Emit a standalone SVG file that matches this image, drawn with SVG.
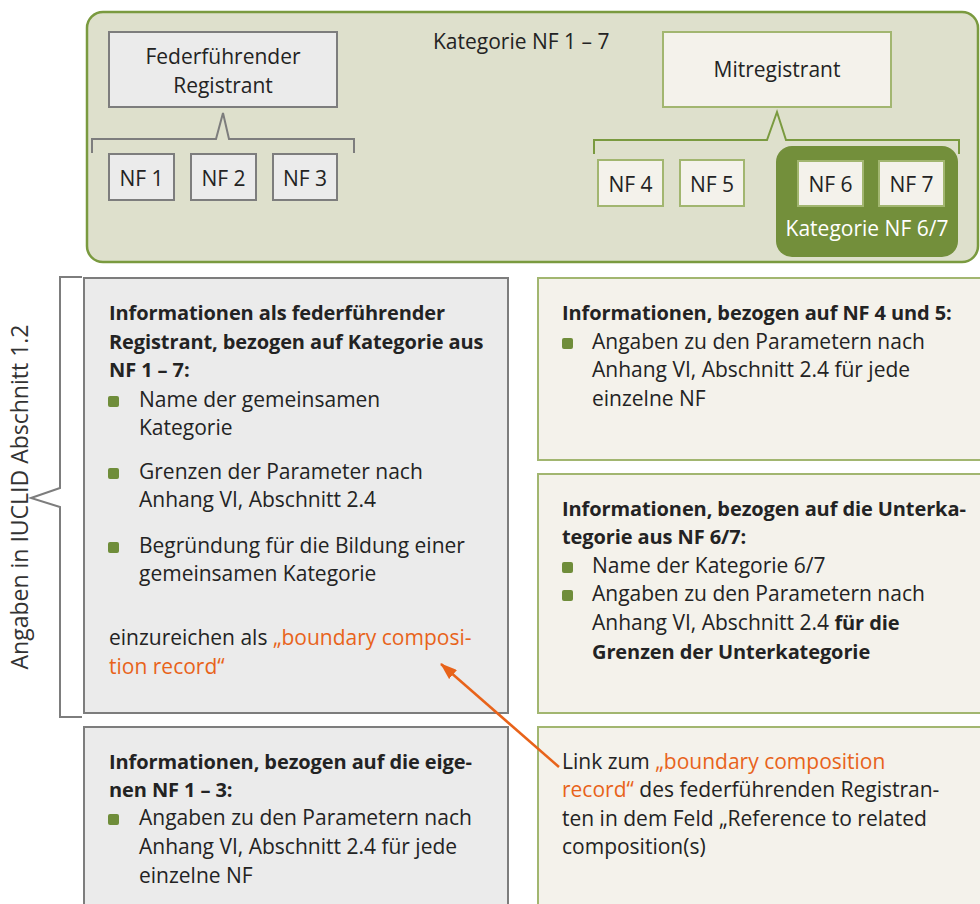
<svg xmlns="http://www.w3.org/2000/svg" width="980" height="904" viewBox="0 0 980 904">
<defs>
<style>
.t{font-family:"Open Sans","Liberation Sans",sans-serif;font-size:21px;fill:#232323}
.c{text-anchor:middle}
.h{font-weight:bold;font-size:20px;letter-spacing:-0.1px}
.o{fill:#e8631a}
.w{fill:#ffffff}
.gbox{fill:#ebebeb;stroke:#7d7d7d;stroke-width:2}
.lbox{fill:#f4f2eb;stroke:#a2b670;stroke-width:2}
.bul{fill:#6f8d3a}
.brg{fill:none;stroke:#7d7d7d;stroke-width:2}
.brgr{fill:none;stroke:#7a9a3f;stroke-width:2}
</style>
<marker id="ah" markerUnits="userSpaceOnUse" viewBox="0 0 17 12" refX="16" refY="6" markerWidth="17" markerHeight="12" orient="auto">
<path d="M0,0 L17,6 L0,12 z" fill="#e8631a"/>
</marker>
</defs>
<rect width="980" height="904" fill="#ffffff"/>

<g id="category-nf1-7">
<rect x="87" y="12" width="891" height="250" rx="16" fill="#dee0cc" stroke="#7a9a3f" stroke-width="2.5"/>
<text class="t" x="433" y="49">Kategorie NF 1 – 7</text>
</g>

<g id="lead-registrant">
<rect class="gbox" x="109" y="32" width="228" height="75"/>
<text class="t c" x="223" y="64">Federführender</text>
<text class="t c" x="223" y="93">Registrant</text>
</g>

<g id="nf1"><rect class="gbox" x="109" y="154" width="65" height="46"/><text class="t c" x="141.5" y="186">NF 1</text></g>
<g id="nf2"><rect class="gbox" x="191" y="154" width="65" height="46"/><text class="t c" x="223.5" y="186">NF 2</text></g>
<g id="nf3"><rect class="gbox" x="273" y="154" width="64" height="46"/><text class="t c" x="305" y="186">NF 3</text></g>

<g id="co-registrant">
<rect class="lbox" x="663" y="32" width="228" height="75"/>
<text class="t c" x="777" y="77">Mitregistrant</text>
</g>

<g id="nf4"><rect class="lbox" x="598" y="160" width="65" height="46"/><text class="t c" x="630.5" y="192">NF 4</text></g>
<g id="nf5"><rect class="lbox" x="680" y="160" width="64" height="46"/><text class="t c" x="712" y="192">NF 5</text></g>

<g id="category-nf6-7">
<rect x="776" y="146" width="182" height="111" rx="16" fill="#738f3b"/>
<text class="t c w" x="867" y="236">Kategorie NF 6/7</text>
</g>
<g id="nf6"><rect class="lbox" x="798" y="161" width="65" height="45"/><text class="t c" x="830.5" y="192">NF 6</text></g>
<g id="nf7"><rect class="lbox" x="879" y="161" width="65" height="45"/><text class="t c" x="911.5" y="192">NF 7</text></g>

<g id="side-label">
<text class="t c" transform="translate(28,497) rotate(-90)" style="font-size:23px;fill:#333">Angaben in IUCLID Abschnitt 1.2</text>
</g>

<g id="box-lead-info">
<rect class="gbox" x="84" y="278" width="424" height="435"/>
<text class="t h" x="109" y="320">Informationen als federführender</text>
<text class="t h" x="109" y="349">Registrant, bezogen auf Kategorie aus</text>
<text class="t h" x="109" y="377">NF 1 – 7:</text>
<rect class="bul" x="108" y="396" width="11" height="11" rx="2"/>
<text class="t" x="139" y="407">Name der gemeinsamen</text>
<text class="t" x="139" y="435">Kategorie</text>
<rect class="bul" x="108" y="468" width="11" height="11" rx="2"/>
<text class="t" x="139" y="479">Grenzen der Parameter nach</text>
<text class="t" x="139" y="507">Anhang VI, Abschnitt 2.4</text>
<rect class="bul" x="108" y="542" width="11" height="11" rx="2"/>
<text class="t" x="139" y="553">Begründung für die Bildung einer</text>
<text class="t" x="139" y="581">gemeinsamen Kategorie</text>
<text class="t" x="109" y="645">einzureichen als <tspan class="o">„boundary composi-</tspan></text>
<text class="t o" x="109" y="674">tion record“</text>
</g>

<g id="box-nf4-5">
<rect class="lbox" x="538" y="278" width="452" height="182"/>
<text class="t h" x="562" y="320">Informationen, bezogen auf NF 4 und 5:</text>
<rect class="bul" x="562" y="338" width="11" height="11" rx="2"/>
<text class="t" x="592" y="349">Angaben zu den Parametern nach</text>
<text class="t" x="592" y="377">Anhang VI, Abschnitt 2.4 für jede</text>
<text class="t" x="592" y="406">einzelne NF</text>
</g>

<g id="box-nf6-7">
<rect class="lbox" x="538" y="474" width="452" height="239"/>
<text class="t h" x="562" y="516">Informationen, bezogen auf die Unterka-</text>
<text class="t h" x="562" y="544">tegorie aus NF 6/7:</text>
<rect class="bul" x="562" y="562" width="11" height="11" rx="2"/>
<text class="t" x="592" y="573">Name der Kategorie 6/7</text>
<rect class="bul" x="562" y="590" width="11" height="11" rx="2"/>
<text class="t" x="592" y="601">Angaben zu den Parametern nach</text>
<text class="t" x="592" y="630">Anhang VI, Abschnitt 2.4 <tspan class="h">für die</tspan></text>
<text class="t h" x="592" y="659">Grenzen der Unterkategorie</text>
</g>

<g id="box-own-nf1-3">
<rect class="gbox" x="84" y="727" width="424" height="190"/>
<text class="t h" x="109" y="769">Informationen, bezogen auf die eige-</text>
<text class="t h" x="109" y="797">nen NF 1 – 3:</text>
<rect class="bul" x="108" y="814" width="11" height="11" rx="2"/>
<text class="t" x="139" y="825">Angaben zu den Parametern nach</text>
<text class="t" x="139" y="854">Anhang VI, Abschnitt 2.4 für jede</text>
<text class="t" x="139" y="883">einzelne NF</text>
</g>

<g id="box-link">
<rect class="lbox" x="538" y="727" width="452" height="190"/>
<text class="t" x="562" y="769">Link zum <tspan class="o">„boundary composition</tspan></text>
<text class="t" x="562" y="797"><tspan class="o">record“</tspan> des federführenden Registran-</text>
<text class="t" x="562" y="826">ten in dem Feld „Reference to related</text>
<text class="t" x="562" y="854">composition(s)</text>
</g>

<g id="connectors">
<path class="brg" d="M92,153 V139 H216 L223,113 L229,139 H354 V153"/>
<path class="brgr" d="M594,154 V140 H767 L777,112 L786,140 H959 V154"/>
<path class="brg" d="M82,277 H60 V488 L31,498 L60,507 V717 H82"/>
<line x1="559" y1="767" x2="441" y2="664" stroke="#e8631a" stroke-width="2.5" marker-end="url(#ah)"/>
</g>
</svg>
